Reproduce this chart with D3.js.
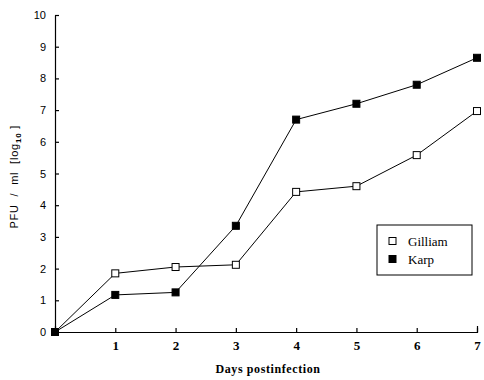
<!DOCTYPE html>
<meta charset="utf-8">
<script src="https://d3js.org/d3.v7.min.js"></script>
<style>
body { margin: 0; background: #fff; }
.axis path, .axis line { stroke: #000; stroke-width: 1.2; }
.y.axis text { font-family: "Liberation Sans", Arial, sans-serif; font-size: 11px; }
.x.axis text { font-family: "Liberation Serif", serif; font-weight: bold; font-size: 13px; }
</style>
<body></body>
<script>
// data
var days = [0, 1, 2, 3, 4, 5, 6, 7];
var gilliam = [0, 1.85, 2.05, 2.12, 4.42, 4.6, 5.58, 6.97];
var karp = [0, 1.17, 1.25, 3.35, 6.7, 7.2, 7.8, 8.65];
var yTicks = [0, 1, 2, 3, 4, 5, 6, 7, 8, 9, 10];
var xTicks = [1, 2, 3, 4, 5, 6, 7];

var margin = {top: 15, right: 7, bottom: 48, left: 55};
var width = 484 - margin.left - margin.right,
    height = 380 - margin.top - margin.bottom;

var svg = d3.select("body").append("svg")
    .attr("width", 484)
    .attr("height", 380)
  .append("g")
    .attr("transform", "translate(" + margin.left + "," + margin.top + ")");

var xScale = d3.scaleLinear().domain([0, 7]).range([0, width]);
var yScale = d3.scaleLinear().domain([0, 10]).range([height, 0]);

var xAxis = d3.axisBottom(xScale).tickValues(xTicks).tickFormat(d3.format("d"))
    .tickSize(-4).tickSizeOuter(-6).tickPadding(9);
var yAxis = d3.axisLeft(yScale).tickValues(yTicks).tickFormat(d3.format("d"))
    .tickSize(-4).tickSizeOuter(0).tickPadding(9);

svg.append("g")
    .attr("class", "x axis")
    .attr("transform", "translate(0," + height + ")")
    .call(xAxis);

svg.append("g")
    .attr("class", "y axis")
    .call(yAxis);

// axis titles
svg.append("text")
    .attr("x", 213)
    .attr("y", height + 41)
    .attr("text-anchor", "middle")
    .style("font-family", "'Liberation Serif', serif")
    .style("font-weight", "bold")
    .style("font-size", "12px")
    .style("letter-spacing", "0.6px")
    .text("Days postinfection");

var yt = svg.append("text")
    .attr("transform", "translate(-37," + yScale(4.9) + ") rotate(-90)")
    .attr("text-anchor", "middle")
    .style("font-family", "'Liberation Sans', Arial, sans-serif")
    .style("font-size", "11px")
    .style("letter-spacing", "0.8px")
    .style("white-space", "pre");
yt.append("tspan").text("PFU  /  ml  [log");
yt.append("tspan").attr("dy", 3).style("font-size", "8px").style("font-weight", "bold").text("10");
yt.append("tspan").attr("dy", -3).text(" ]");

var line = d3.line()
    .x(function(d, i) { return xScale(days[i]); })
    .y(function(d) { return yScale(d); });

var series = [
  {name: "Gilliam", values: gilliam, fill: "#fff"},
  {name: "Karp", values: karp, fill: "#000"}
];

series.forEach(function(s) {
  svg.append("path")
      .datum(s.values)
      .attr("fill", "none")
      .attr("stroke", "#000")
      .attr("stroke-width", 1)
      .attr("d", line);
});

series.forEach(function(s) {
  svg.selectAll(".pt-" + s.name)
      .data(s.values)
      .enter().append("rect")
      .attr("x", function(d, i) { return xScale(days[i]) - 3.5; })
      .attr("y", function(d) { return yScale(d) - 3.5; })
      .attr("width", 7)
      .attr("height", 7)
      .attr("fill", s.fill)
      .attr("stroke", "#000")
      .attr("stroke-width", 1);
});

// legend
var legend = svg.append("g")
    .attr("transform", "translate(" + (377 - margin.left) + "," + (225 - margin.top) + ")");

legend.append("rect")
    .attr("width", 95)
    .attr("height", 50)
    .attr("fill", "#fff")
    .attr("stroke", "#000")
    .attr("stroke-width", 1);

series.forEach(function(s, i) {
  var g = legend.append("g").attr("transform", "translate(0," + (16 + i * 18) + ")");
  g.append("rect")
      .attr("x", 12)
      .attr("y", -3.5)
      .attr("width", 7)
      .attr("height", 7)
      .attr("fill", s.fill)
      .attr("stroke", "#000");
  g.append("text")
      .attr("x", 31)
      .attr("y", 4.5)
      .style("font-family", "'Liberation Serif', serif")
      .style("font-size", "13px")
      .text(s.name);
});
</script>
